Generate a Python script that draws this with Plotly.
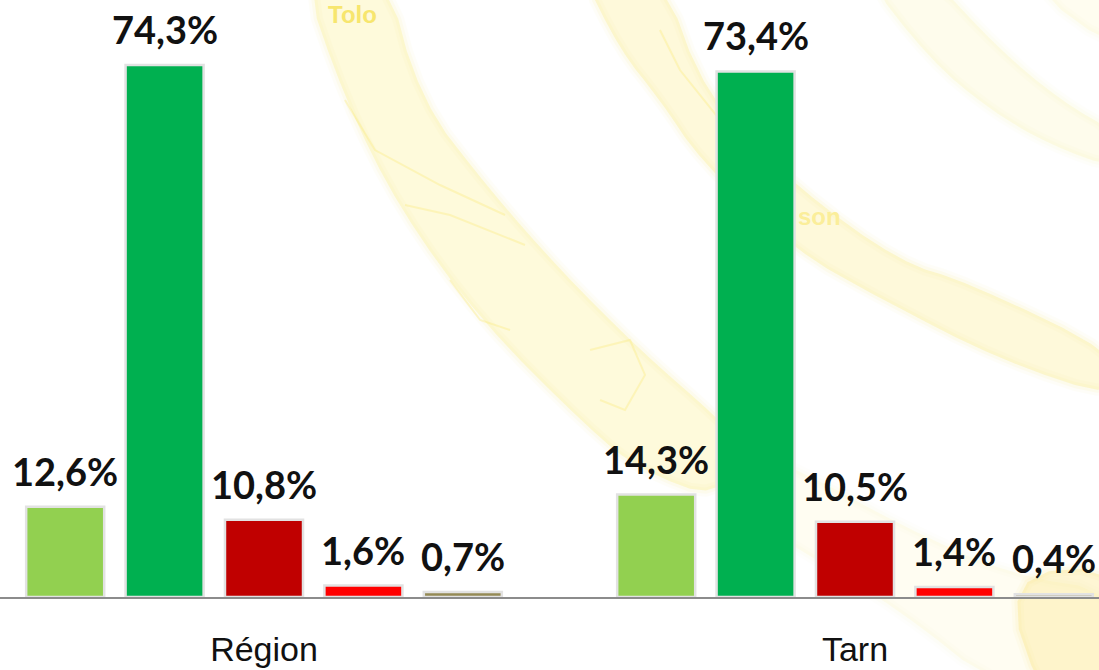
import plotly.graph_objects as go

categories = ["Région", "Tarn"]
series_a = [12.6, 14.3]
series_b = [74.3, 73.4]
series_c = [10.8, 10.5]
series_d = [1.6, 1.4]
series_e = [0.7, 0.4]
all_series = [series_a, series_b, series_c, series_d, series_e]
colors = ["#92D050", "#00B050", "#C00000", "#FF0000", "#948A54"]

W, H, AXIS_Y = 1099, 670, 597
CATEGORY_PX = 591
BAR_PITCH_PX = 99.4

# Decorative pale background bands (page pixels)
bands = [
    ([(300,-30),(385,-30),(420,100),(490,190),(560,270),(640,350),(720,420),(735,440),(720,500),(640,470),(590,430),(480,320),(400,210),(345,100)], 0.24, "#FBE96A"),
    ([(720,440),(800,470),(900,525),(1010,575),(1120,592),(1120,690),(1000,690),(900,610),(800,550),(720,500)], 0.09, "#FBE96A"),
    ([(1000,575),(1130,565),(1130,720),(1050,720)], 0.32, "#FDE27A"),
    ([(580,-30),(660,-30),(707,100),(800,190),(900,262),(967,282),(1120,355),(1120,400),(1000,360),(883,300),(794,250),(700,160),(660,100),(620,50)], 0.25, "#FBE96A"),
    ([(860,-30),(925,-30),(1000,50),(1060,100),(1120,135),(1120,170),(1050,145),(990,110),(930,60)], 0.13, "#FBE96A"),
    ([(1020,-20),(1130,-20),(1130,60)], 0.10, "#FBE96A"),
]
details = [
    [(345,100),(375,150),(440,185),(505,215)],
    [(405,205),(450,215),(525,245)],
    [(590,350),(630,340),(645,375),(625,410),(600,400)],
    [(450,280),(480,320),(510,330)],
    [(660,30),(680,70),(720,120)],
]


def chaikin(points, rounds=2):
    pts = list(points)
    for _ in range(rounds):
        out = []
        n = len(pts)
        for i in range(n):
            a, b = pts[i], pts[(i + 1) % n]
            out.append((0.75 * a[0] + 0.25 * b[0], 0.75 * a[1] + 0.25 * b[1]))
            out.append((0.25 * a[0] + 0.75 * b[0], 0.25 * a[1] + 0.75 * b[1]))
        pts = out
    return pts


def path(points, close=True):
    c = [(x / W, (AXIS_Y - y) / AXIS_Y) for x, y in points]
    return "M" + "L".join(f"{x:.4f},{y:.4f}" for x, y in c) + ("Z" if close else "")


shapes = []
for pts, alpha, col in bands:
    smooth = path(chaikin(pts))
    for lw, a in ((12, alpha * 0.18), (6, alpha * 0.3)):
        shapes.append(dict(type="path", path=smooth, xref="paper", yref="paper", layer="below",
                           line=dict(color=col, width=lw), opacity=a, fillcolor="rgba(0,0,0,0)"))
    shapes.append(dict(type="path", path=smooth, xref="paper", yref="paper", layer="below",
                       line=dict(width=0), fillcolor=col, opacity=alpha))
for pts in details:
    shapes.append(dict(type="path", path=path(pts, False), xref="paper", yref="paper", layer="below",
                       line=dict(color="#FBE96A", width=2), opacity=0.3))

fig = go.Figure()
for vals, col in zip(all_series, colors):
    fig.add_trace(go.Bar(
        x=categories, y=vals, marker=dict(color=col, line=dict(color="#E2E2E2", width=2.5)),
        cliponaxis=False,
    ))

annots = [
    dict(text="Tolo", x=352 / W, y=(AXIS_Y - 15) / AXIS_Y, xref="paper", yref="paper", showarrow=False,
         xanchor="center", yanchor="middle",
         font=dict(family="Liberation Sans", size=24, color="#F7E66E", weight="bold")),
    dict(text="son", x=796 / W, y=(AXIS_Y - 217) / AXIS_Y, xref="paper", yref="paper", showarrow=False,
         xanchor="left", yanchor="middle",
         font=dict(family="Liberation Sans", size=24, color="#FBEE9A", weight="bold")),
]
for i, vals in enumerate(all_series):
    for cat, v in zip(categories, vals):
        annots.append(dict(
            x=cat, y=v, text=f"{v:.1f}".replace(".", ",") + "%", showarrow=False,
            xshift=(i - 2) * BAR_PITCH_PX, yanchor="bottom", yshift=11,
            font=dict(family="Lato", size=38, color="#111111", weight="bold"),
        ))

# one category = 591 px, first category centre at x = 264 px
x0 = -264 / CATEGORY_PX
fig.update_layout(
    width=W, height=H, margin=dict(l=0, r=0, t=0, b=H - AXIS_Y, pad=0),
    paper_bgcolor="white", plot_bgcolor="rgba(0,0,0,0)",
    barmode="group", bargap=0.159, bargroupgap=0.215, showlegend=False,
    shapes=shapes, annotations=annots,
    xaxis=dict(type="category", range=[x0, x0 + W / CATEGORY_PX], showgrid=False, showline=True, linecolor="#8C8C8C",
               linewidth=1.5, ticks="outside", ticklen=21, tickcolor="rgba(0,0,0,0)", automargin=False,
               tickfont=dict(family="Liberation Sans", size=34, color="#111111")),
    yaxis=dict(range=[0, AXIS_Y / 7.16], visible=False, automargin=False),
)
fig.write_html("out.html", config={"displayModeBar": False},
               post_script="document.body.style.margin='0';document.body.style.overflow='hidden';")
